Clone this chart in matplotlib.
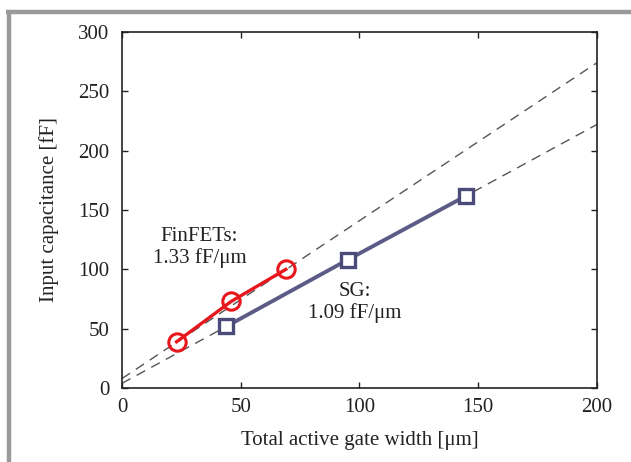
import matplotlib
matplotlib.use('Agg')
import matplotlib.pyplot as plt
from matplotlib.lines import Line2D

plt.rcParams['font.family'] = ['Liberation Serif', 'DejaVu Serif']

# measured points
fin_w = [23, 46, 69]
fin_c = [39, 73, 100]
sg_w = [44, 95, 145]
sg_c = [52, 108, 162]

# linear fits (slope, intercept)
fin_fit = (1.33, 8.0)
sg_fit = (1.09, 4.0)
fit_x = [0, 200]

ink = '#222222'

fig = plt.figure(figsize=(6.31, 4.62), dpi=100)
ax = fig.add_axes([0.1933, 0.160, 0.7527, 0.771])

for slope, icpt in (fin_fit, sg_fit):
    ax.plot(fit_x, [icpt + slope * x for x in fit_x], color='#555555',
            lw=1.0, dashes=(7, 5))

ax.plot(fin_w, fin_c, color='#e8171e', lw=2.4, marker='o', ms=12.5,
        mfc='none', mec='#e8171e', mew=2.2)
ax.plot(sg_w, sg_c, color='#5c5a86', lw=2.8, marker='s', ms=10.5,
        mfc='white', mec='#4c4a78', mew=2.4)

ax.text(32.6, 118.5, 'FinFETs:\n1.33 fF/\u03bcm', ha='center', va='center',
        fontsize=15, linespacing=1.1, color=ink)
ax.text(98, 72, 'SG:\n1.09 fF/\u03bcm', ha='center', va='center',
        fontsize=15, linespacing=1.15, color=ink)

ax.set_xlim(0, 200)
ax.set_ylim(0, 300)
ax.set_xticks([0, 50, 100, 150, 200])
ax.set_yticks([0, 50, 100, 150, 200, 250, 300])
ax.tick_params(direction='in', top=True, right=True, length=4, width=1,
               labelsize=15, colors=ink)
ax.tick_params(axis='y', pad=9)
ax.tick_params(axis='x', pad=7)
for s in ax.spines.values():
    s.set_linewidth(1.2)
    s.set_color(ink)

ax.set_xlabel('Total active gate width [\u03bcm]', fontsize=15, color=ink, labelpad=10)
ax.set_ylabel('Input capacitance [fF]', fontsize=15, color=ink, labelpad=14)

# grey frame along top and left edges
fig.add_artist(Line2D([6 / 631, 1.0], [1 - 12 / 462] * 2, transform=fig.transFigure,
                      color='#9a9a9a', lw=3.2, solid_capstyle='butt'))
fig.add_artist(Line2D([8.5 / 631] * 2, [1 - 10.5 / 462, 0.0], transform=fig.transFigure,
                      color='#9a9a9a', lw=3.2, solid_capstyle='butt'))

fig.savefig('out.png', dpi=100)
